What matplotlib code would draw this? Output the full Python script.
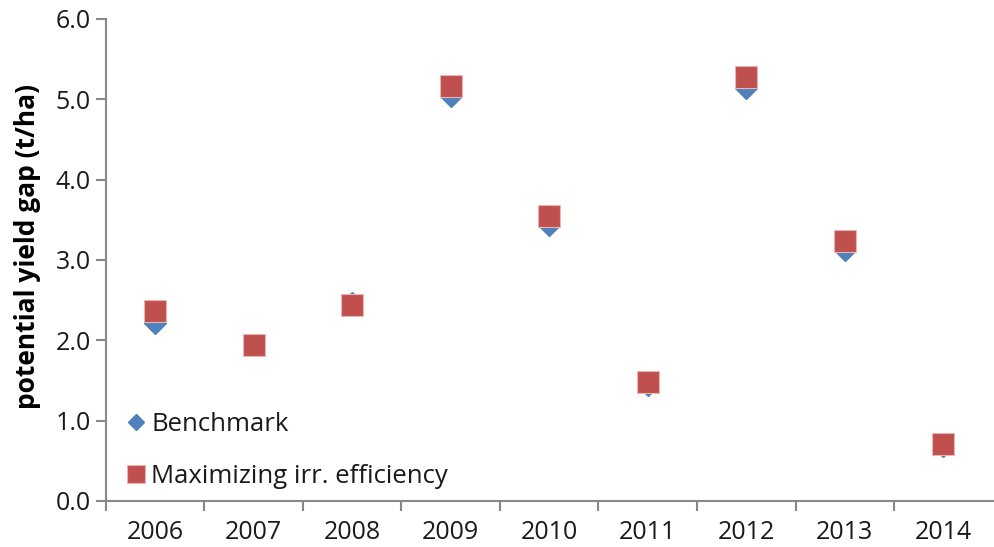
import matplotlib
matplotlib.use("Agg")
import matplotlib.pyplot as plt
import numpy as np

years = ["2006", "2007", "2008", "2009", "2010", "2011", "2012", "2013", "2014"]
benchmark = [2.22, 1.94, 2.46, 5.04, 3.44, 1.45, 5.14, 3.13, 0.69]
max_irr_eff = [2.37, 1.94, 2.44, 5.17, 3.55, 1.48, 5.28, 3.24, 0.71]
y_ticks = [0, 1, 2, 3, 4, 5, 6]

plt.rcParams["font.family"] = ["Open Sans", "DejaVu Sans"]

fig = plt.figure(figsize=(9.95, 5.47), dpi=100)
ax = fig.add_axes([0.1065, 0.0841, 0.891, 0.8812])

x = np.arange(len(years))
ax.plot(x, benchmark, linestyle="none", marker="D", markersize=10.8,
        color="#4F81BD", markeredgecolor="#4F81BD", label="Benchmark")
ax.plot(x, max_irr_eff, linestyle="none", marker="s", markersize=15.8,
        color="#C0504D", markeredgecolor="#E8B5B3", markeredgewidth=0.8,
        label="Maximizing irr. efficiency")

ax.set_xlim(-0.5, len(years) - 0.5)
ax.set_ylim(0, 6)

ax.set_xticks(x)
ax.set_xticklabels(years)
ax.set_xticks(np.arange(-0.5, len(years) - 1, 1.0), minor=True)
ax.tick_params(axis="x", which="major", length=0, pad=14, labelsize=18, labelcolor="#1a1a1a")
ax.tick_params(axis="x", which="minor", length=7, width=1.5, color="#888888", direction="out")

ax.set_yticks(y_ticks)
ax.set_yticklabels([f"{v:.1f}" for v in y_ticks])
ax.tick_params(axis="y", length=7, width=1.5, color="#888888", direction="out",
               labelsize=18, labelcolor="#1a1a1a", pad=4)

for side in ("top", "right"):
    ax.spines[side].set_visible(False)
for side in ("left", "bottom"):
    ax.spines[side].set_color("#888888")
    ax.spines[side].set_linewidth(1.5)

ax.set_ylabel("potential yield gap (t/ha)", fontsize=19, fontweight="bold",
              color="#000000", va="center")
ax.yaxis.set_label_coords(-0.089, 0.527)

leg = ax.legend(loc="lower left", bbox_to_anchor=(0.012, 0.0), frameon=False,
                fontsize=18.5, markerscale=0.8, handlelength=0.6, handletextpad=0.3,
                labelspacing=1.05, borderaxespad=0.0, borderpad=0.45)
for t in leg.get_texts():
    t.set_color("#1a1a1a")

fig.savefig("out.png", dpi=100, facecolor="white")
